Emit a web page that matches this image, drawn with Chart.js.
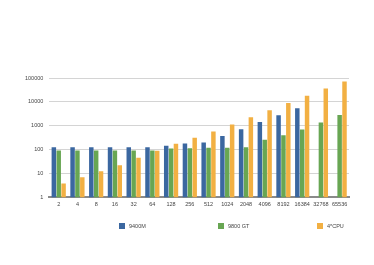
<!DOCTYPE html>
<html>
<head>
<meta charset="utf-8">
<script src="https://cdn.jsdelivr.net/npm/chart.js@4/dist/chart.umd.min.js"></script>
<style>
  html, body { margin: 0; padding: 0; background: #fff; }
  #wrap { position: relative; width: 374px; height: 265px; }
  #legend {
    position: absolute; left: 119px; top: 223px;
    display: flex; font: 5.5px 'Liberation Sans', sans-serif; color: #444;
  }
  #legend .item { width: 99px; display: flex; align-items: center; }
  #legend .box { width: 6px; height: 6px; margin-right: 4px; }
</style>
</head>
<body>
<div id="wrap"><canvas id="chart"></canvas><div id="legend"></div></div>
<script>
// Размеры задачи (ось X)
const sizes = ['2', '4', '8', '16', '32', '64', '128', '256', '512', '1024', '2048', '4096', '8192', '16384', '32768', '65536'];

// Время для каждого устройства
const gpu9400m = [127, 127, 127, 127, 127, 127, 145, 181, 200, 375, 716, 1420, 2750, 5460, null, null];
const gpu9800gt = [91, 91, 91, 91, 91, 91, 111, 115, 119, 119, 127, 261, 398, 695, 1380, 2830];
const cpu4 = [3.8, 6.9, 12.4, 22, 46, 90, 176, 318, 571, 1135, 2256, 4470, 8900, 18200, 36000, 72000];

// Деления оси Y
const yTicks = [1, 10, 100, 1000, 10000, 100000];

const tickFont = { family: 'Liberation Sans', size: 5.5 };

const chart = new Chart(document.getElementById('chart'), {
  type: 'bar',
  data: {
    labels: sizes,
    datasets: [
      { label: '9400M', data: gpu9400m, backgroundColor: '#3b67a0' },
      { label: '9800 GT', data: gpu9800gt, backgroundColor: '#68a653' },
      { label: '4*CPU', data: cpu4, backgroundColor: '#f2b043' }
    ]
  },
  options: {
    responsive: true,
    maintainAspectRatio: false,
    animation: false,
    datasets: {
      bar: { categoryPercentage: 0.78, barPercentage: 0.92 }
    },
    layout: { padding: { top: 78, left: 19, right: 25, bottom: 53 } },
    plugins: {
      tooltip: { enabled: false },
      legend: { display: false }
    },
    scales: {
      x: {
        grid: { display: false, drawTicks: false },
        border: { color: '#8a8a8a', width: 2 },
        ticks: { color: '#444', font: tickFont, padding: 4, maxRotation: 0, autoSkip: false }
      },
      y: {
        type: 'logarithmic',
        min: 1,
        max: 100000,
        afterBuildTicks: function (axis) {
          axis.ticks = yTicks.map(v => ({ value: v }));
        },
        grid: { color: '#d4d4d4', lineWidth: 1, drawTicks: false },
        border: { display: false },
        ticks: {
          color: '#444',
          font: tickFont,
          padding: 6,
          callback: function (value) { return String(value); }
        }
      }
    }
  }
});

// Легенда из наборов данных
const legend = document.getElementById('legend');
chart.data.datasets.forEach(function (ds) {
  const item = document.createElement('div');
  item.className = 'item';
  item.innerHTML = '<span class="box" style="background:' + ds.backgroundColor + '"></span>' + ds.label;
  legend.appendChild(item);
});
</script>
</body>
</html>
